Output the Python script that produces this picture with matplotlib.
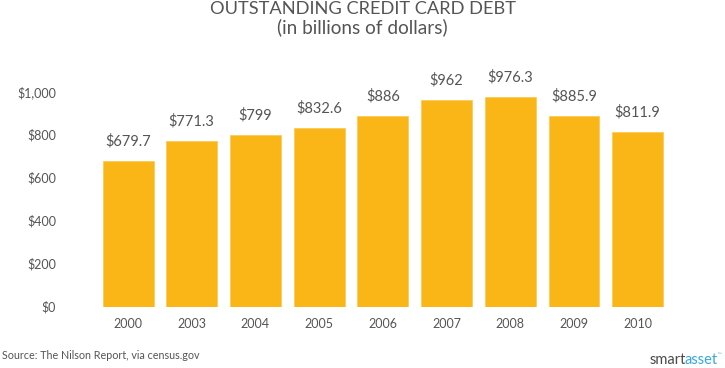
import matplotlib.pyplot as plt
import numpy as np

years = ["2000", "2003", "2004", "2005", "2006", "2007", "2008", "2009", "2010"]
debt = [679.7, 771.3, 799, 832.6, 886, 962, 976.3, 885.9, 811.9]
value_labels = ["$679.7", "$771.3", "$799", "$832.6", "$886", "$962", "$976.3", "$885.9", "$811.9"]
y_ticks = [0, 200, 400, 600, 800, 1000]
y_tick_labels = ["$0", "$200", "$400", "$600", "$800", "$1,000"]

plt.rcParams['font.family'] = ['Lato', 'DejaVu Sans']
text_color = '#555555'
bar_color = '#F9B616'

figure = plt.figure(figsize=(7.25, 3.68), dpi=100)
axes = figure.add_axes([0.1327, 0.1666, 0.7908, 0.5842])
renderer = figure.canvas.get_renderer()


def fit_width(txt, width_px):
    # scale the font size so the text spans width_px pixels
    txt.set_fontsize(10)
    w = txt.get_window_extent(renderer).width
    txt.set_fontsize(10 * width_px / w)
    return txt


x = np.arange(len(years))
axes.bar(x, debt, width=0.8, color=bar_color, edgecolor='#FBCB5A', linewidth=0.6)

# value labels above bars
for xi, v, lab in zip(x, debt, value_labels):
    axes.annotate(lab, (xi, v), xytext=(0, 9), textcoords='offset points',
                  ha='center', va='bottom', fontsize=10.5, color=text_color)

axes.set_xlim(-0.5, 8.5)
axes.set_ylim(0, 1000)
axes.set_xticks(x)
axes.set_xticklabels(years)
axes.set_yticks(y_ticks)
axes.set_yticklabels(y_tick_labels)
axes.tick_params(axis='x', length=0, pad=8, labelsize=9, labelcolor=text_color)
axes.tick_params(axis='y', length=0, pad=29, labelsize=9, labelcolor=text_color)
for spine in axes.spines.values():
    spine.set_visible(False)

title = figure.text(0.5, 1 - 14 / 368, "OUTSTANDING CREDIT CARD DEBT", ha='center',
                    va='baseline', color=text_color)
fit_width(title, 305)
subtitle = figure.text(0.5, 1 - 33 / 368, "(in billions of dollars)", ha='center',
                       va='baseline', color=text_color)
fit_width(subtitle, 172)

source = figure.text(2 / 725, 1 - 359 / 368, "Source: The Nilson Report, via census.gov",
                     ha='left', va='baseline', color=text_color)
fit_width(source, 198)

# smartasset logo: two colours side by side
smart = figure.text(650 / 725, 1 - 364 / 368, "smart", ha='left', va='baseline',
                    fontsize=10.5, color='#4a4a4a')
x_end = smart.get_window_extent(renderer).x1
asset = figure.text((x_end - 2) / 725, 1 - 364 / 368, "asset", ha='left', va='baseline',
                    fontsize=10.5, color='#35A8E0')
x_end = asset.get_window_extent(renderer).x1
figure.text(x_end / 725, 1 - 356 / 368, "\u2122", ha='left', va='baseline',
            fontsize=3.5, color='#35A8E0')

figure.savefig("out.png", dpi=100)
